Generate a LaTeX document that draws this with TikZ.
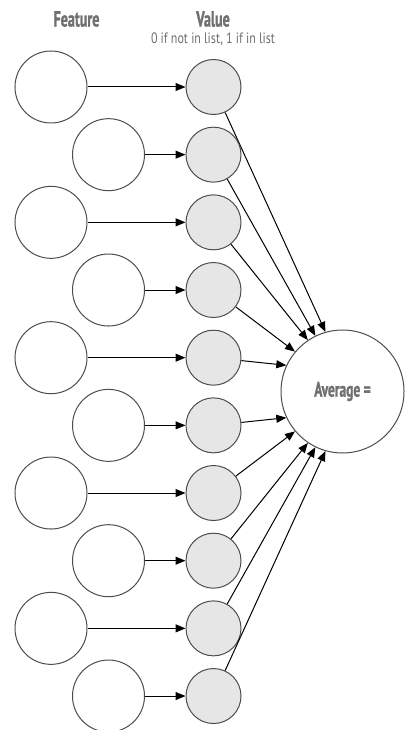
\documentclass[tikz,border=0pt]{standalone}
\usepackage{fontspec}
\setmainfont{PT Sans}
\newfontfamily\condb[FakeStretch=0.64,BoldFeatures={FakeBold=1.2}]{PT Sans}
\newfontfamily\condr[FakeStretch=0.8]{PT Sans}
\usetikzlibrary{arrows.meta}
\definecolor{txtgray}{HTML}{707070}
\definecolor{valfill}{HTML}{E6E6E6}
\definecolor{edge}{HTML}{4D4D4D}
\begin{document}
\begin{tikzpicture}[x=1pt,y=-1pt,
  feat/.style={circle,draw=edge,fill=white,line width=1pt,minimum size=72pt,inner sep=0pt},
  val/.style={circle,draw=edge,fill=valfill,line width=1pt,minimum size=55pt,inner sep=0pt},
  avg/.style={circle,draw=edge,fill=white,line width=1pt,minimum size=123pt,inner sep=0pt,text=txtgray,font=\condb\bfseries\fontsize{21}{23}\selectfont},
  arr/.style={draw=black,line width=1pt,-{Triangle[length=10pt,width=8pt]}},
  head/.style={text=txtgray,font=\condb\bfseries\fontsize{22}{24}\selectfont,inner sep=0pt},
  sub/.style={text=txtgray,font=\condr\fontsize{15}{17}\selectfont,inner sep=0pt}]
\useasboundingbox (0,0) rectangle (404,730);
\node[head] (hf) at (76.5,19) {Feature};
\node[head] (hv) at (213,19) {Value};
\node[sub] (hs) at (213,39) {0 if not in list, 1 if in list};
\node[avg] (A) at (342.5,391.5) {Average =};
\foreach \i/\ang in {1/106,2/116,3/124,4/140,5/155,6/205,7/220,8/236,9/244,10/254}{
  \pgfmathsetmacro{\yy}{87+(\i-1)*67.67}
  \pgfmathsetmacro{\xx}{ifthenelse(mod(\i,2)==1,51,108.5)}
  \node[feat] (f\i) at (\xx,\yy) {};
  \node[val] (v\i) at (213.5,\yy) {};
  \draw[arr] (f\i) -- (v\i);
  \draw[arr] (v\i) -- (A.\ang);
}
\end{tikzpicture}
\end{document}
